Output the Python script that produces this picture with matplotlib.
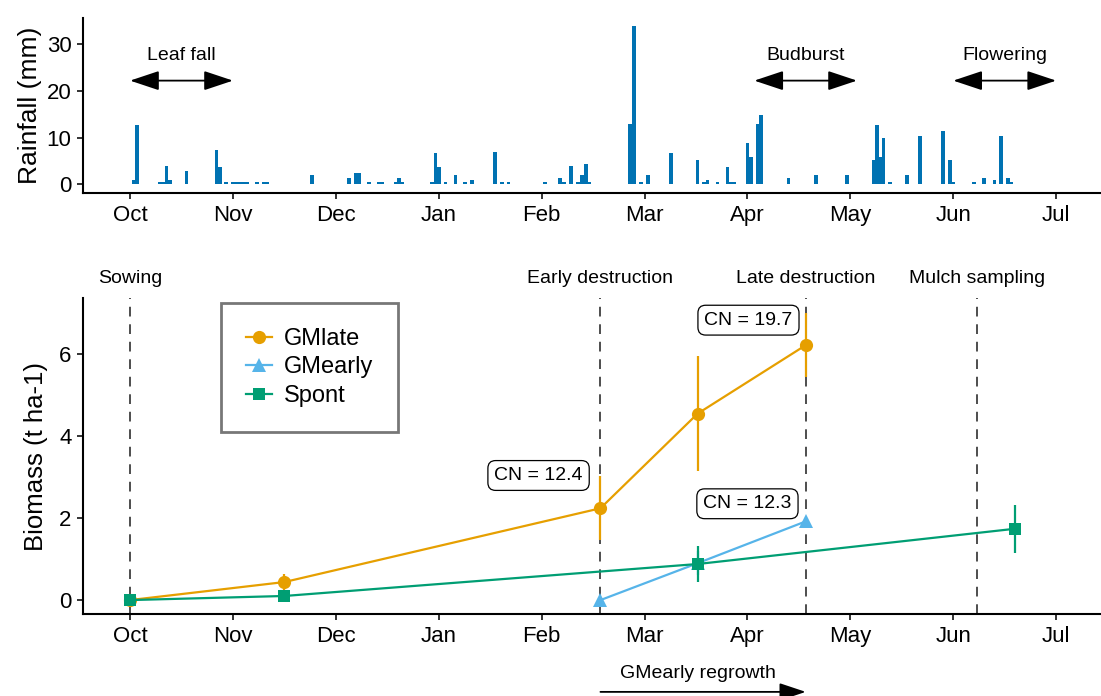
"""Rainfall and cover-crop biomass, October to July (two stacked panels)."""
import matplotlib
matplotlib.use("Agg")
import matplotlib.pyplot as plt

plt.rcParams["font.family"] = ["Liberation Sans", "DejaVu Sans"]

MONTHS = ["Oct", "Nov", "Dec", "Jan", "Feb", "Mar", "Apr", "May", "Jun", "Jul"]
MONTH_DAYS = [31, 30, 31, 31, 28, 31, 30, 31, 30, 31]

# daily rainfall (mm), dates as MM-DD
RAIN_DATES = [
    "10-02", "10-03", "10-10", "10-11", "10-12", "10-13", "10-18", "10-27",
    "10-28", "10-30", "11-01", "11-02", "11-03", "11-04", "11-05", "11-08",
    "11-10", "11-11", "11-24", "12-05", "12-07", "12-08", "12-11", "12-14",
    "12-15", "12-19", "12-20", "12-21", "12-30", "12-31", "01-01", "01-03",
    "01-06", "01-09", "01-11", "01-18", "01-20", "01-22", "02-02", "02-06",
    "02-07", "02-09", "02-11", "02-12", "02-13", "02-14", "02-25", "02-26",
    "02-28", "03-02", "03-09", "03-17", "03-19", "03-20", "03-23", "03-26",
    "03-27", "03-28", "04-01", "04-02", "04-04", "04-05", "04-13", "04-21",
    "04-30", "05-08", "05-09", "05-10", "05-11", "05-13", "05-18", "05-22",
    "05-29", "05-31", "06-01", "06-07", "06-10", "06-13", "06-15", "06-17",
    "06-18",
]
RAIN_MM = [
    1.0, 12.6, 0.6, 0.6, 4.0, 1.0, 2.9, 7.4,
    3.6, 0.6, 0.6, 0.6, 0.6, 0.6, 0.6, 0.6,
    0.6, 0.6, 2.1, 1.4, 2.5, 2.5, 0.6, 0.6,
    0.6, 0.6, 1.4, 0.6, 0.6, 6.6, 3.6, 0.6,
    2.1, 0.6, 1.0, 7.0, 0.6, 0.6, 0.6, 1.4,
    0.6, 4.0, 0.6, 2.1, 4.4, 0.6, 13.0, 34.0,
    0.6, 2.1, 6.6, 5.1, 0.6, 1.0, 0.6, 3.6,
    0.6, 0.6, 8.9, 5.9, 13.0, 14.9, 1.4, 2.1,
    2.1, 5.1, 12.6, 5.9, 10.0, 0.6, 2.1, 10.4,
    11.5, 5.1, 0.6, 0.6, 1.4, 1.0, 10.4, 1.4,
    0.6,
]

# phenology periods (start, end, label)
PHENO_START = ["10-01", "04-03", "06-01"]
PHENO_END = ["11-01", "05-03", "07-01"]
PHENO_LABEL = ["Leaf fall", "Budburst", "Flowering"]

# management events
EVENT_DATES = ["10-01", "02-17", "04-18", "06-08"]
EVENT_LABELS = ["Sowing", "Early destruction", "Late destruction", "Mulch sampling"]

# biomass (t ha-1), mean and error
GMLATE_DATES = ["10-01", "11-16", "02-17", "03-17", "04-18"]
GMLATE_MEAN = [0.0, 0.44, 2.24, 4.55, 6.22]
GMLATE_ERR = [0.0, 0.2, 0.78, 1.4, 0.78]

GMEARLY_DATES = ["02-17", "03-17", "04-18"]
GMEARLY_MEAN = [0.0, 0.90, 1.92]
GMEARLY_ERR = [0.0, 0.3, 0.0]

SPONT_DATES = ["10-01", "11-16", "03-17", "06-19"]
SPONT_MEAN = [0.0, 0.10, 0.88, 1.74]
SPONT_ERR = [0.0, 0.04, 0.44, 0.58]

CN_TEXT = ["CN = 12.4", "CN = 19.7", "CN = 12.3"]

C_LATE = "#E69F00"
C_EARLY = "#56B4E9"
C_SPONT = "#009E73"
C_RAIN = "#0072B2"


def mpos(md):
    """MM-DD -> position in months since 1 October."""
    m, d = (int(v) for v in md.split("-"))
    idx = (m - 10) % 12
    return idx + (d - 1) / MONTH_DAYS[idx]


def style_axes(ax):
    for s in ("top", "right"):
        ax.spines[s].set_visible(False)
    for s in ("left", "bottom"):
        ax.spines[s].set_linewidth(1.5)
    ax.tick_params(direction="out", length=4.5, width=1.4, labelsize=16,
                   color="#333333", pad=4)
    ax.set_xticks(range(len(MONTHS)))
    ax.set_xticklabels(MONTHS)
    ax.set_xlim(-0.454, 9.436)


fig = plt.figure(figsize=(11.01, 6.96), dpi=100)
ax1 = fig.add_axes([0.0757, 0.7231, 0.9243, 0.2510])
ax2 = fig.add_axes([0.0757, 0.1178, 0.9243, 0.4540])

# ---- rainfall panel
x_rain = [mpos(d) for d in RAIN_DATES]
w_rain = [1.1 / MONTH_DAYS[(int(d[:2]) - 10) % 12] for d in RAIN_DATES]
ax1.bar(x_rain, RAIN_MM, width=w_rain, color=C_RAIN, linewidth=0)
style_axes(ax1)
ax1.set_ylim(-1.8, 35.6)
ax1.set_yticks([0, 10, 20, 30])
ax1.set_ylabel("Rainfall (mm)", fontsize=19, labelpad=3)

for s, e, lab in zip(PHENO_START, PHENO_END, PHENO_LABEL):
    xs, xe = mpos(s), mpos(e)
    ax1.annotate("", xy=(xe, 22.2), xytext=(xs, 22.2),
                 arrowprops=dict(arrowstyle="<|-|>,head_length=0.9,head_width=0.3",
                                 color="black", lw=1.3, mutation_scale=20,
                                 shrinkA=0, shrinkB=0))
    ax1.text((xs + xe) / 2, 27.5, lab, ha="center", va="center", fontsize=14)

# ---- biomass panel
style_axes(ax2)
ax2.set_ylim(-0.34, 7.37)
ax2.set_yticks([0, 2, 4, 6])
ax2.set_ylabel("Biomass (t ha-1)", fontsize=18.5, labelpad=8)

for d, lab in zip(EVENT_DATES, EVENT_LABELS):
    xe = mpos(d)
    ax2.axvline(xe, color="#4d4d4d", lw=1.4, ls=(0, (5, 4)), zorder=1)
    ax2.text(xe, 7.85, lab, ha="center", va="center", fontsize=14,
             clip_on=False)

series = [
    ("GMlate", GMLATE_DATES, GMLATE_MEAN, GMLATE_ERR, C_LATE, "o", 9.5),
    ("GMearly", GMEARLY_DATES, GMEARLY_MEAN, GMEARLY_ERR, C_EARLY, "^", 10.5),
    ("Spont", SPONT_DATES, SPONT_MEAN, SPONT_ERR, C_SPONT, "s", 9),
]
handles = []
for z, (name, dates, mean, err, col, mk, ms) in enumerate(series):
    xs = [mpos(d) for d in dates]
    ax2.errorbar(xs, mean, yerr=err, fmt="none", ecolor=col, elinewidth=1.6,
                 capsize=0, zorder=3 + z)
    h, = ax2.plot(xs, mean, color=col, lw=1.6, marker=mk, ms=ms,
                  markeredgewidth=0, label=name, zorder=3 + z)
    handles.append(h)

box = dict(boxstyle="round,pad=0.33,rounding_size=0.4", fc="white",
           ec="black", lw=0.9)
ax2.text(3.97, 3.04, CN_TEXT[0], ha="center", va="center", fontsize=14,
         bbox=box, zorder=10)
ax2.text(6.01, 6.83, CN_TEXT[1], ha="center", va="center", fontsize=14,
         bbox=box, zorder=10)
ax2.text(6.00, 2.35, CN_TEXT[2], ha="center", va="center", fontsize=14,
         bbox=box, zorder=10)

leg = ax2.legend(handles=handles, loc="upper left",
                 bbox_to_anchor=(0.1356, 0.984), borderaxespad=0,
                 fontsize=17, frameon=True, fancybox=False, borderpad=1.05,
                 handlelength=1.1, handletextpad=0.5, labelspacing=0.28)
leg.get_frame().set_edgecolor("#555555")
leg.get_frame().set_linewidth(2.0)

# GMearly regrowth arrow below the axis
x0, x1 = mpos(EVENT_DATES[1]), mpos(EVENT_DATES[2])
ax2.annotate("", xy=(x1, -2.24), xytext=(x0, -2.24), annotation_clip=False,
             arrowprops=dict(arrowstyle="-|>,head_length=0.9,head_width=0.3",
                             color="black", lw=1.3, mutation_scale=18,
                             shrinkA=0, shrinkB=0))
ax2.text((x0 + x1) / 2 - 0.05, -1.78, "GMearly regrowth", ha="center",
         va="center", fontsize=14, clip_on=False)

fig.savefig("out.png", dpi=100)
